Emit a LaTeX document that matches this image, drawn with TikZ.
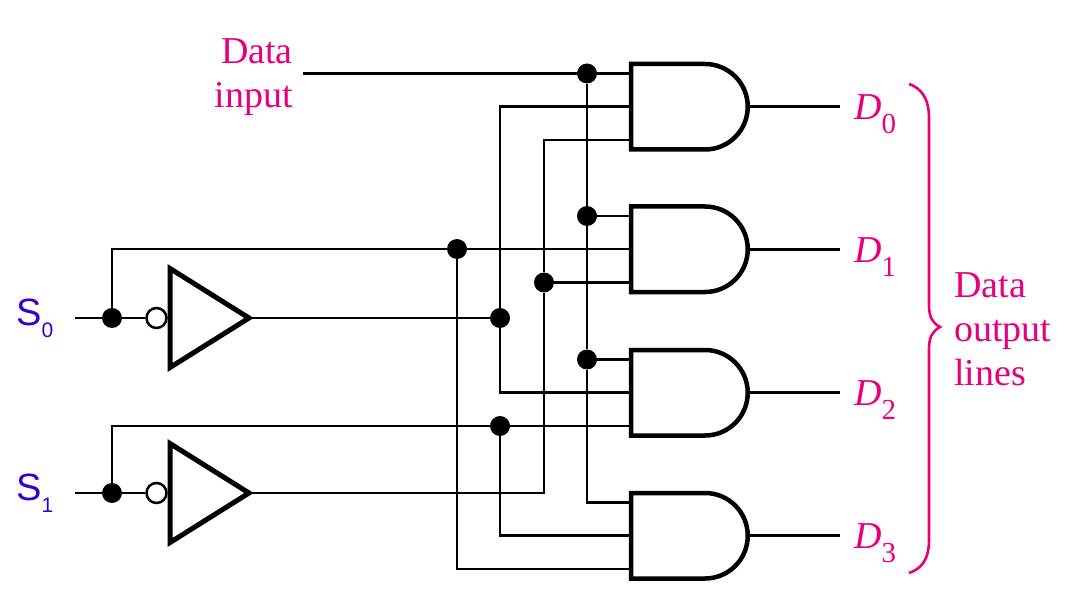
\documentclass[tikz,border=0pt]{standalone}
\usepackage{fontspec}
\setmainfont{Liberation Serif}
\newfontfamily\selfont{Liberation Sans}
\usepackage{tikz}
\usetikzlibrary{positioning, arrows, shapes}
\definecolor{labelpink}{HTML}{E6007E}
\definecolor{selblue}{HTML}{3300CC}
\tikzstyle{wire} = [line width=2.8pt]
\tikzstyle{gate} = [line width=4.5pt, line join=miter, fill=white]
\tikzstyle{dot} = [circle, fill=black, inner sep=0pt, minimum size=20pt]
\tikzstyle{bubble} = [circle, draw=black, fill=white, line width=2.5pt, inner sep=0pt, minimum size=20pt]
\tikzstyle{pinktext} = [text=labelpink, font=\fontsize{38}{44}\selectfont, inner sep=0pt]
\tikzstyle{sellabel} = [text=selblue, font=\selfont\fontsize{38}{44}\selectfont, inner sep=0pt, anchor=base west]
\newcommand{\outsub}[1]{\textit{D}\raisebox{-14pt}{\fontsize{29}{29}\selectfont #1}}
\newcommand{\selsub}[1]{S\raisebox{-12pt}{\fontsize{21}{21}\selectfont #1}}

\begin{document}
\begin{tikzpicture}[x=1pt, y=-1pt]
                \useasboundingbox (0,0) rectangle (1066,604);
                % free ends
                \coordinate (datain) at (303,73.5);
                \coordinate (s0in) at (75,318);
                \coordinate (s1in) at (75,493);
                % and gates
                \foreach \name/\y in {g0/64, g1/206.5, g2/350, g3/493}{
                    \draw[gate] (631,\y) -- (705,\y) arc (-90:90:42.75) -- (631,\y+85.5) -- cycle;
                    \coordinate (\name a) at (631,\y+9.5);
                    \coordinate (\name b) at (631,\y+42.5);
                    \coordinate (\name c) at (631,\y+76);
                    \coordinate (\name out) at (747.75,\y+42.75);
                }
                % inverters
                \foreach \name/\y in {n0/318, n1/493}{
                    \draw[gate, line width=5pt] (170,\y-49.5) -- (249,\y) -- (170,\y+49.5) -- cycle;
                    \coordinate (\name out) at (249,\y);
                    \node[bubble] (\name b) at (156.5,\y) {};
                }
                % junctions
                \node[dot] (js0) at (112,318) {};
                \node[dot] (js1) at (112,493) {};
                \node[dot] (jd0) at (587,73.5) {};
                \node[dot] (jd1) at (587,216) {};
                \node[dot] (jd2) at (587,359.5) {};
                \node[dot] (ja) at (457,249) {};
                \node[dot] (jb) at (500,318) {};
                \node[dot] (jc) at (500,426) {};
                \node[dot] (je) at (544,282.5) {};

                % data line
                \draw[wire] (datain) -- (jd0) -- (g0a);
                \draw[wire] (jd0) -- (jd1) -- (jd2) |- (g3a);
                \draw[wire] (jd1) -- (g1a);
                \draw[wire] (jd2) -- (g2a);
                % select 0
                \draw[wire] (s0in) -- (js0) -- (n0b);
                \draw[wire] (js0) |- (ja) -- (g1b);
                \draw[wire] (ja) |- (g3c);
                \draw[wire] (n0out) -- (jb);
                \draw[wire] (jb) |- (g0b);
                \draw[wire] (jb) |- (g2b);
                % select 1
                \draw[wire] (s1in) -- (js1) -- (n1b);
                \draw[wire] (js1) |- (jc) -- (g2c);
                \draw[wire] (jc) |- (g3b);
                \draw[wire] (n1out) -| (je);
                \draw[wire] (je) |- (g0c);
                \draw[wire] (je) -- (g1c);

                % labels
                \node[pinktext, align=right, anchor=north east] (datalabel) at (293,38) {Data\\input};
                \foreach \i/\y in {0/106.75, 1/249.25, 2/392.75, 3/535.75}{
                    \node[pinktext, anchor=base west] (d\i) at (854,\y+13) {\outsub{\i}};
                    \coordinate (d\i end) at (840,\y);
                    \draw[wire] (g\i out) -- (d\i end);
                }
                \node[sellabel] (s0) at (16,325) {\selsub{0}};
                \node[sellabel] (s1) at (16,500) {\selsub{1}};
                \node[pinktext, align=left, anchor=north west] (outlabel) at (954,272) {Data\\output\\lines};
                % brace
                \draw[labelpink, line width=2.6pt] (909,84) .. controls (921,88) and (929,98) .. (929,118)
                    -- (929,305) .. controls (929,318) and (933,323) .. (940,327)
                    .. controls (933,331) and (929,336) .. (929,349)
                    -- (929,540) .. controls (929,560) and (921,569) .. (909,573);
              \end{tikzpicture}
\end{document}
